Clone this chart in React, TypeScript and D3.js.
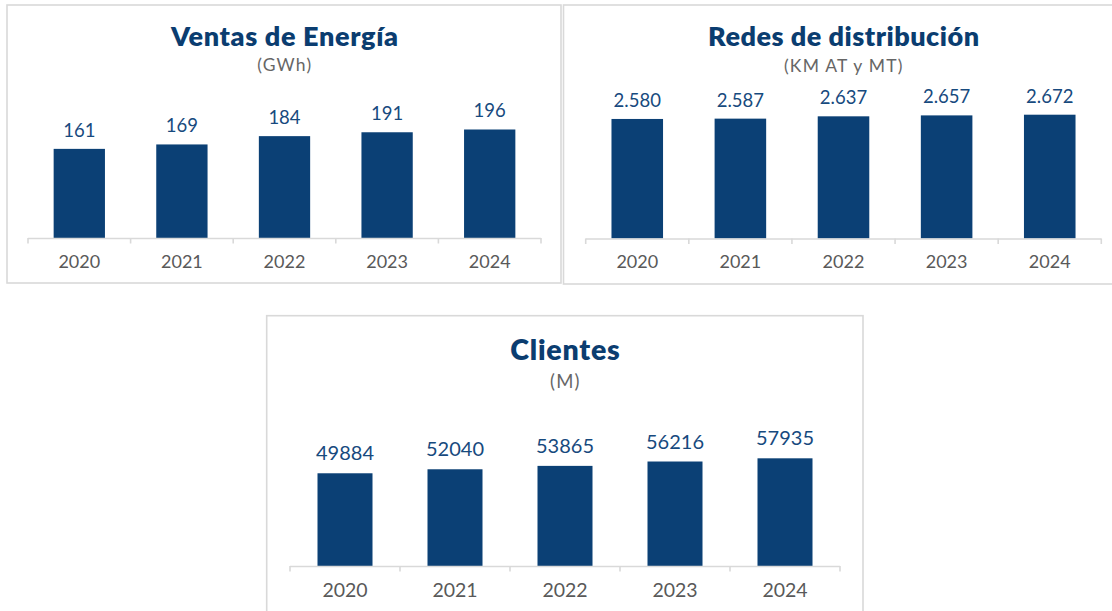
import React from "react";
import * as d3 from "d3";

const years = ["2020", "2021", "2022", "2023", "2024"];

const ventasValues = [161, 169, 184, 191, 196];
const ventasLabels = ["161", "169", "184", "191", "196"];

const redesValues = [2580, 2587, 2637, 2657, 2672];
const redesLabels = ["2.580", "2.587", "2.637", "2.657", "2.672"];

const clientesValues = [49884, 52040, 53865, 56216, 57935];
const clientesLabels = ["49884", "52040", "53865", "56216", "57935"];

const titles = ["Ventas de Energía", "Redes de distribución", "Clientes"];
const subtitles = ["(GWh)", "(KM AT y MT)", "(M)"];

const BAR = "#0b4075";
const TITLE = "#0b3d70";
const VALUE = "#174a7e";
const YEAR = "#595959";
const SUB = "#666666";
const GRID = "#d9d9d9";
const FONT = "Lato, 'Open Sans', sans-serif";

type Layout = {
  x: number; y: number; w: number; h: number;
  left: number; right: number; top: number; bottom: number;
  titleY: number; subY: number; yearY: number;
  titleSize: number; titleLs: number; subSize: number; numSize: number; yearSize: number;
  labelGap: number; yMax: number; cx: number;
};

function Panel(props: {
  layout: Layout; title: string; subtitle: string;
  values: number[]; labels: string[];
}) {
  const { layout: L, title, subtitle, values, labels } = props;
  const x = d3.scaleBand<string>().domain(years).range([L.left, L.right])
    .paddingInner(0.5).paddingOuter(0.25);
  const y = d3.scaleLinear().domain([0, L.yMax]).range([L.bottom, L.top]);
  const step = x.step();
  const ticks = d3.range(years.length + 1).map((i) => L.left + i * step);
  return (
    <g>
      <rect x={L.x} y={L.y} width={L.w} height={L.h} fill="#fff" stroke={GRID} strokeWidth={1.6} />
      <text x={L.cx} y={L.titleY} textAnchor="middle" fontFamily={FONT} fontWeight={800}
        fontSize={L.titleSize} letterSpacing={L.titleLs} fill={TITLE}>{title}</text>
      <text x={L.cx} y={L.subY} textAnchor="middle" fontFamily={FONT}
        fontSize={L.subSize} letterSpacing={1.2} fill={SUB}>{subtitle}</text>
      {values.map((v, i) => (
        <g key={years[i]}>
          <rect x={x(years[i])} y={y(v)} width={x.bandwidth()} height={L.bottom - y(v)} fill={BAR} />
          <text x={(x(years[i]) as number) + x.bandwidth() / 2} y={y(v) - L.labelGap}
            textAnchor="middle" fontFamily={FONT} fontSize={L.numSize} fill={VALUE}>{labels[i]}</text>
          <text x={(x(years[i]) as number) + x.bandwidth() / 2} y={L.yearY}
            textAnchor="middle" fontFamily={FONT} fontSize={L.yearSize} fill={YEAR}>{years[i]}</text>
        </g>
      ))}
      <line x1={L.left} x2={L.right} y1={L.bottom + 0.5} y2={L.bottom + 0.5} stroke={GRID} strokeWidth={1.6} />
      {ticks.map((t, i) => (
        <line key={i} x1={t} x2={t} y1={L.bottom} y2={L.bottom + 5.5} stroke={GRID} strokeWidth={1.6} />
      ))}
    </g>
  );
}

const layouts: Layout[] = [
  { x: 7, y: 5, w: 554, h: 278, left: 28, right: 541, top: 99.6, bottom: 238,
    titleY: 45.5, subY: 71, yearY: 267.5, titleSize: 27, titleLs: 0.65, subSize: 17.5, numSize: 18.5, yearSize: 18,
    labelGap: 12, yMax: 250, cx: 284.8 },
  { x: 563.5, y: 5, w: 560, h: 279, left: 585.7, right: 1101.3, top: 99.5, bottom: 238.5,
    titleY: 46, subY: 71.5, yearY: 268, titleSize: 27, titleLs: 0.5, subSize: 17.5, numSize: 18.5, yearSize: 18,
    labelGap: 12, yMax: 3000, cx: 843.8 },
  { x: 266.7, y: 315.7, w: 596.3, h: 320, left: 290, right: 840, top: 417.3, bottom: 566,
    titleY: 360, subY: 388, yearY: 597, titleSize: 28.5, titleLs: 0.8, subSize: 18.5, numSize: 20, yearSize: 19.5,
    labelGap: 13, yMax: 80000, cx: 565.4 },
];

export default function App() {
  const vals = [ventasValues, redesValues, clientesValues];
  const labs = [ventasLabels, redesLabels, clientesLabels];
  return (
    <div style={{ position: "absolute", left: 0, top: 0 }}>
      <svg width={1112} height={611} style={{ display: "block", background: "#fff" }}>
        {layouts.map((L, i) => (
          <Panel key={i} layout={L} title={titles[i]} subtitle={subtitles[i]} values={vals[i]} labels={labs[i]} />
        ))}
      </svg>
    </div>
  );
}
